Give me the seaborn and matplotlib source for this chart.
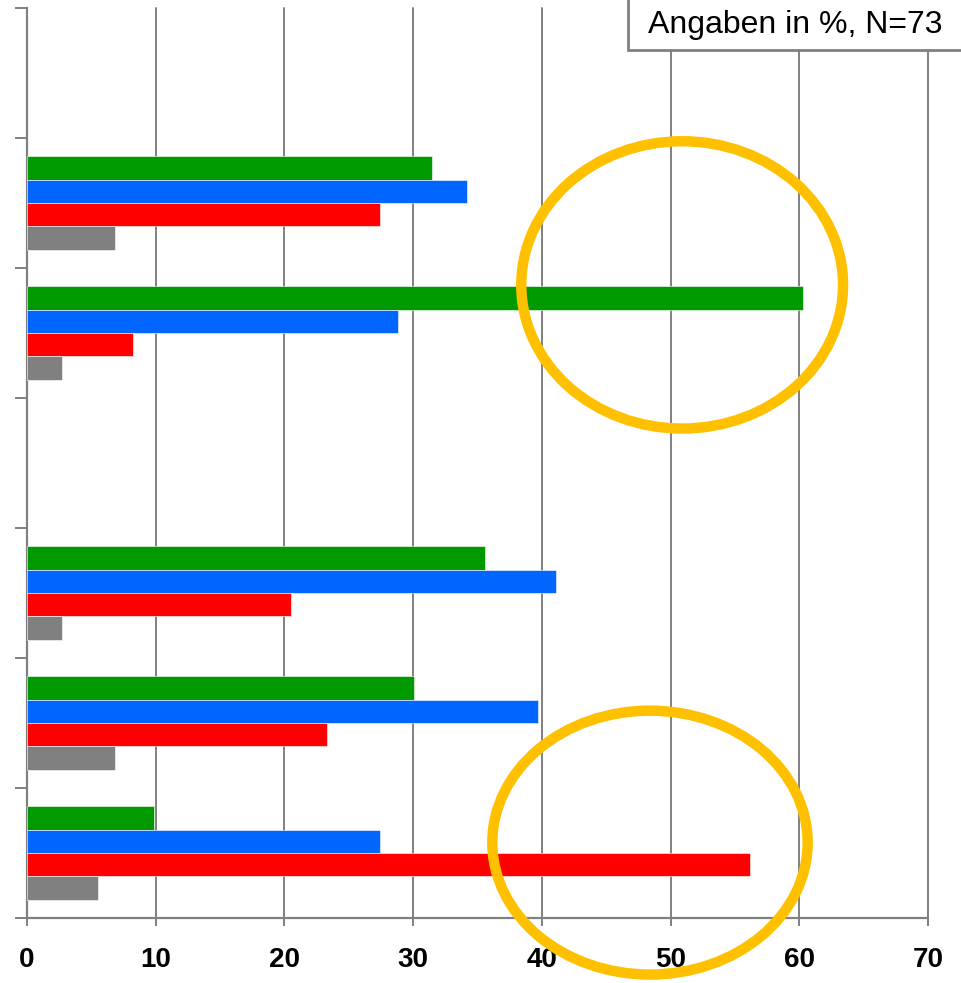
import pandas as pd
import matplotlib
matplotlib.use("Agg")
import matplotlib.pyplot as plt
import seaborn as sns
from matplotlib.patches import Ellipse, Rectangle

# category slots from top to bottom (two slots are empty in the original)
categories = ["K1", "K2", "K3", "K4", "K5", "K6", "K7"]
series = ["Serie 1", "Serie 2", "Serie 3", "Serie 4"]
colors = ["#009900", "#0066FF", "#FF0000", "#808080"]

# values in % per series (N=73)
serie1 = {"K2": 31.5, "K3": 60.3, "K5": 35.6, "K6": 30.1, "K7": 9.9}
serie2 = {"K2": 34.2, "K3": 28.8, "K5": 41.1, "K6": 39.7, "K7": 27.4}
serie3 = {"K2": 27.4, "K3": 8.2, "K5": 20.5, "K6": 23.3, "K7": 56.2}
serie4 = {"K2": 6.8, "K3": 2.7, "K5": 2.7, "K6": 6.8, "K7": 5.5}

rows = []
for name, vals in zip(series, [serie1, serie2, serie3, serie4]):
    for cat, v in vals.items():
        rows.append({"Kategorie": cat, "Serie": name, "Wert": v})
df = pd.DataFrame(rows)

sns.set_style("white")
plt.rcParams["font.family"] = ["Liberation Sans", "DejaVu Sans"]

fig = plt.figure(figsize=(9.61, 9.83), dpi=100)
ax = fig.add_axes([27 / 961, 1 - 918 / 983, 901 / 961, 910 / 983])

sns.barplot(data=df, y="Kategorie", x="Wert", hue="Serie", order=categories,
            hue_order=series, palette=colors, orient="h", width=0.72, gap=0,
            saturation=1, edgecolor="white", linewidth=0.4, legend=False, ax=ax,
            zorder=3)

ax.set_xlim(0, 70)
ax.set_ylim(len(categories) - 0.5, -0.5)
ax.set_xticks(range(0, 71, 10))
ax.set_xticklabels([str(t) for t in range(0, 71, 10)], fontsize=20,
                   fontweight="bold", color="black")
ax.set_yticks([i - 0.5 for i in range(len(categories) + 1)])
ax.set_yticklabels([])
ax.set_xlabel("")
ax.set_ylabel("")

ax.xaxis.grid(True, color="#808080", linewidth=1.4, zorder=0)
for gl in ax.get_xgridlines():
    gl.set_clip_on(False)
ax.set_axisbelow(True)
for s in ["top", "right"]:
    ax.spines[s].set_visible(False)
for s in ["left", "bottom"]:
    ax.spines[s].set_color("#808080")
    ax.spines[s].set_linewidth(1.6)
ax.tick_params(axis="x", bottom=True, direction="out", length=6, width=1.4,
               color="#808080", pad=15)
ax.tick_params(axis="y", left=True, direction="out", length=9, width=1.4,
               color="#808080")

# note box in the upper right corner
fig.patches.append(Rectangle((628 / 961, 1 - 50 / 983), 0.5, 0.2, transform=fig.transFigure,
                             facecolor="white", edgecolor="#808080", linewidth=2, zorder=5))
fig.text(648 / 961, 1 - 25 / 983, "Angaben in %, N=73", fontsize=23, va="center",
         ha="left", color="black", zorder=6)

# highlight circles
ax.add_patch(Ellipse((50.9, 1.63), 25.0, 2.21, transform=ax.transData, fill=False,
                     edgecolor="#FFC000", linewidth=7.5, clip_on=False, zorder=7))
ax.add_patch(Ellipse((48.4, 5.92), 24.5, 2.03, transform=ax.transData, fill=False,
                     edgecolor="#FFC000", linewidth=7.5, clip_on=False, zorder=7))

fig.savefig("out.png", dpi=100)
